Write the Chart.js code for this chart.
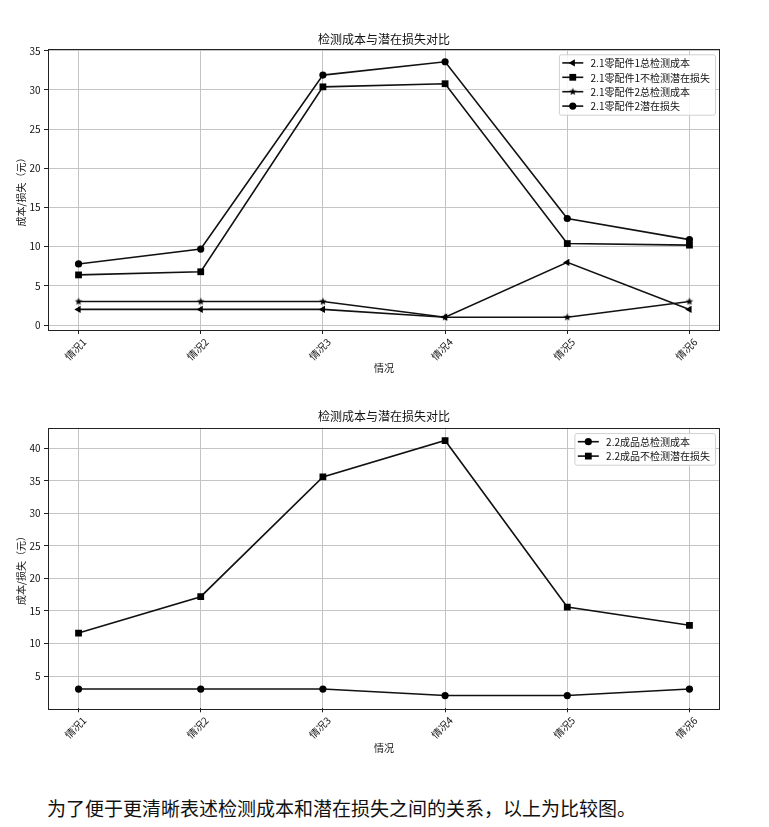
<!DOCTYPE html>
<html><head><meta charset="utf-8">
<script src="https://cdn.jsdelivr.net/npm/chart.js@4.4.1/dist/chart.umd.min.js"></script>
<style>
html,body{margin:0;padding:0;background:#fff;width:769px;height:827px;overflow:hidden;}
#c1{position:absolute;left:0;top:0;}
#c2{position:absolute;left:0;top:390px;}
#note{position:absolute;left:47px;top:795px;font-family:"Noto Sans CJK SC";font-size:19px;line-height:26px;color:#111;white-space:nowrap;}
</style></head><body>
<canvas id="c1" width="769" height="390" style="width:769px;height:390px"></canvas>
<canvas id="c2" width="769" height="380" style="width:769px;height:380px"></canvas>
<div id="note">为了便于更清晰表述检测成本和潜在损失之间的关系，以上为比较图。</div>
<script>
// ---- data ----
const categories = ['情况1', '情况2', '情况3', '情况4', '情况5', '情况6'];
const part1TotalCost = [2, 2, 2, 1, 8, 2];
const part1NoInspectLoss = [6.4, 6.8, 30.4, 30.8, 10.4, 10.2];
const part2TotalCost = [3, 3, 3, 1, 1, 3];
const part2Loss = [7.8, 9.7, 31.9, 33.6, 13.6, 10.9];
const productTotalCost = [3, 3, 3, 2, 2, 3];
const productNoInspectLoss = [11.6, 17.2, 35.6, 41.2, 15.6, 12.8];
const topYTicks = [0, 5, 10, 15, 20, 25, 30, 35];
const bottomYTicks = [5, 10, 15, 20, 25, 30, 35, 40];
const chartTitle = '检测成本与潜在损失对比';
const xAxisTitle = '情况';
const yAxisTitle = '成本/损失（元）';
const topLabels = ['2.1零配件1总检测成本', '2.1零配件1不检测潜在损失', '2.1零配件2总检测成本', '2.1零配件2潜在损失'];
const bottomLabels = ['2.2成品总检测成本', '2.2成品不检测潜在损失'];

const FONT = '"Noto Sans CJK SC", "Noto Sans", sans-serif';

// star marker image
function makeStar(rOut) {
  const c = document.createElement('canvas');
  const s = Math.ceil(rOut * 2 + 2);
  c.width = s; c.height = s;
  const g = c.getContext('2d');
  g.fillStyle = '#000';
  g.beginPath();
  const cx = s / 2, cy = s / 2, rIn = rOut * 0.42;
  for (let i = 0; i < 10; i++) {
    const r = i % 2 === 0 ? rOut : rIn;
    const a = -Math.PI / 2 + i * Math.PI / 5;
    const px = cx + r * Math.cos(a), py = cy + r * Math.sin(a);
    if (i === 0) g.moveTo(px, py); else g.lineTo(px, py);
  }
  g.closePath();
  g.fill();
  return c;
}
const starImg = makeStar(4);

const STYLES = {
  triLeft: { ps: 'triangle', rot: -90, r: 4.2 },
  square: { ps: 'rect', rot: 0, r: 4.8 },
  star: { ps: starImg, rot: 0, r: 4 },
  circle: { ps: 'circle', rot: 0, r: 3.6 }
};

function series(label, values, st) {
  return {
    label,
    data: values.map((v, i) => ({ x: i, y: v })),
    borderColor: '#111', backgroundColor: '#111', borderWidth: 1.6,
    pointStyle: st.ps, pointRotation: st.rot, pointRadius: st.r, pointHoverRadius: st.r,
    pointBackgroundColor: '#000', pointBorderColor: '#000', pointBorderWidth: 0,
    tension: 0, fill: false, mplStyle: st
  };
}

const framePlugin = {
  id: 'frame',
  beforeDatasetsDraw(chart) {
    const { ctx, chartArea: a } = chart;
    ctx.save();
    ctx.strokeStyle = '#222';
    ctx.lineWidth = 1;
    ctx.strokeRect(Math.round(a.left) + 0.5, Math.round(a.top) + 0.5, Math.round(a.right - a.left) - 1, Math.round(a.bottom - a.top));
    ctx.restore();
  },
  afterDraw(chart, args, opts) {
    const { ctx, chartArea: a } = chart;
    ctx.save();
    ctx.font = '12px ' + FONT;
    ctx.fillStyle = '#111';
    ctx.textAlign = 'center';
    ctx.textBaseline = 'middle';
    ctx.fillText(opts.text, (a.left + a.right) / 2, opts.y);
    ctx.restore();
  }
};

const legendPlugin = {
  id: 'mplLegend',
  afterDraw(chart) {
    const { ctx, chartArea: a } = chart;
    const dsets = chart.data.datasets;
    ctx.save();
    ctx.font = '10px ' + FONT;
    let maxW = 0;
    dsets.forEach(d => { maxW = Math.max(maxW, ctx.measureText(d.label).width); });
    const rowH = 14.4;
    const w = 31.7 + maxW + 5;
    const h = 8.6 * 2 + rowH * (dsets.length - 1);
    const x = a.right - 5 - w;
    const y = a.top + 5.3;
    ctx.fillStyle = 'rgba(255,255,255,0.85)';
    ctx.strokeStyle = '#d0d0d0';
    ctx.lineWidth = 1;
    ctx.beginPath();
    if (ctx.roundRect) ctx.roundRect(x + 0.5, y + 0.5, w, h, 2); else ctx.rect(x + 0.5, y + 0.5, w, h);
    ctx.fill(); ctx.stroke();
    dsets.forEach((d, i) => {
      const cy = y + 8.6 + i * rowH;
      ctx.strokeStyle = '#111';
      ctx.lineWidth = 1.6;
      ctx.beginPath();
      ctx.moveTo(x + 3.4, cy); ctx.lineTo(x + 24.4, cy);
      ctx.stroke();
      ctx.fillStyle = '#000';
      Chart.helpers.drawPoint(ctx, { pointStyle: d.mplStyle.ps, rotation: d.mplStyle.rot, radius: d.mplStyle.r, borderWidth: 0 }, x + 13.9, cy);
      ctx.fillStyle = '#111';
      ctx.textBaseline = 'middle';
      ctx.textAlign = 'left';
      ctx.fillText(d.label, x + 31.7, cy + 0.5);
    });
    ctx.restore();
  }
};

function makeChart(id, datasets, yTicks, g) {
  let lo = Infinity, hi = -Infinity;
  datasets.forEach(d => d.data.forEach(p => { lo = Math.min(lo, p.y); hi = Math.max(hi, p.y); }));
  const m = (hi - lo) * 0.05;
  return new Chart(document.getElementById(id), {
    type: 'line',
    data: { datasets },
    options: {
      responsive: false, animation: false, devicePixelRatio: 1,
      layout: { padding: { left: 0, right: 49, top: g.top, bottom: 0 } },
      plugins: {
        legend: { display: false },
        tooltip: { enabled: false },
        title: { display: false },
        frame: { text: chartTitle, y: g.titleY }
      },
      scales: {
        x: {
          type: 'linear', min: -0.25, max: categories.length - 0.75,
          afterBuildTicks: s => { s.ticks = categories.map((_, i) => ({ value: i })); },
          afterFit: s => { s.height = g.xAxisH; },
          ticks: {
            callback: v => categories[v], color: '#111', autoSkip: false,
            minRotation: 45, maxRotation: 45, labelOffset: 6, padding: 2,
            font: { family: FONT, size: 10 }
          },
          grid: { color: '#c4c4c4', lineWidth: 1, drawTicks: true, tickLength: 4, tickColor: '#222' },
          border: { display: false },
          title: { display: true, text: xAxisTitle, color: '#111', font: { family: FONT, size: 10, lineHeight: 1.2 }, padding: { top: 0, bottom: 16 } }
        },
        y: {
          type: 'linear', min: lo - m, max: hi + m,
          afterBuildTicks: s => { s.ticks = yTicks.map(v => ({ value: v })); },
          afterFit: s => { s.width = 48; },
          ticks: { color: '#111', padding: 3.5, font: { family: FONT, size: 10 } },
          grid: { color: '#c4c4c4', lineWidth: 1, drawTicks: true, tickLength: 4, tickColor: '#222' },
          border: { display: false },
          title: { display: true, text: yAxisTitle, color: '#111', font: { family: FONT, size: 10, lineHeight: 1.2 }, padding: { top: 15, bottom: 0 } }
        }
      }
    },
    plugins: [framePlugin, legendPlugin]
  });
}

makeChart('c1', [
  series(topLabels[0], part1TotalCost, STYLES.triLeft),
  series(topLabels[1], part1NoInspectLoss, STYLES.square),
  series(topLabels[2], part2TotalCost, STYLES.star),
  series(topLabels[3], part2Loss, STYLES.circle)
], topYTicks, { top: 49, titleY: 39, xAxisH: 60 });

makeChart('c2', [
  series(bottomLabels[0], productTotalCost, STYLES.circle),
  series(bottomLabels[1], productNoInspectLoss, STYLES.square)
], bottomYTicks, { top: 37.8, titleY: 26, xAxisH: 61.7 });
</script>
</body></html>
